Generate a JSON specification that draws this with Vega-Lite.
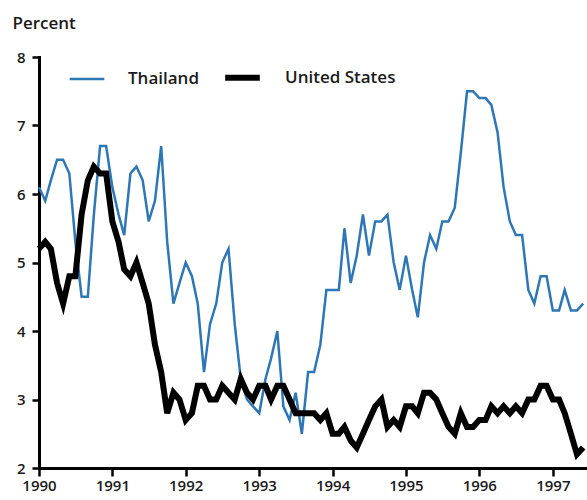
{
  "$schema": "https://vega.github.io/schema/vega-lite/v6.json",
  "width": 548,
  "height": 411,
  "autosize": "none",
  "padding": {"left": 39, "top": 57, "right": 0, "bottom": 32},
  "background": "white",
  "config": {
    "view": {"stroke": null},
    "font": "Open Sans",
    "legend": {
      "orient": "none",
      "legendX": 29,
      "legendY": 0,
      "direction": "horizontal",
      "padding": 0,
      "symbolType": "stroke",
      "symbolSize": 1200,
      "labelFont": "Open Sans",
      "labelFontSize": 17,
      "labelFontWeight": 600,
      "labelColor": "#1a1a1a",
      "labelOffset": 22,
      "columnPadding": 14
    }
  },
  "data": {
    "values": [
      {"date": "1990-01", "Thailand": 6.1, "United States": 5.2},
      {"date": "1990-02", "Thailand": 5.9, "United States": 5.3},
      {"date": "1990-03", "Thailand": 6.2, "United States": 5.2},
      {"date": "1990-04", "Thailand": 6.5, "United States": 4.7},
      {"date": "1990-05", "Thailand": 6.5, "United States": 4.4},
      {"date": "1990-06", "Thailand": 6.3, "United States": 4.8},
      {"date": "1990-07", "Thailand": 5.3, "United States": 4.8},
      {"date": "1990-08", "Thailand": 4.5, "United States": 5.7},
      {"date": "1990-09", "Thailand": 4.5, "United States": 6.2},
      {"date": "1990-10", "Thailand": 5.7, "United States": 6.4},
      {"date": "1990-11", "Thailand": 6.7, "United States": 6.3},
      {"date": "1990-12", "Thailand": 6.7, "United States": 6.3},
      {"date": "1991-01", "Thailand": 6.1, "United States": 5.6},
      {"date": "1991-02", "Thailand": 5.7, "United States": 5.3},
      {"date": "1991-03", "Thailand": 5.4, "United States": 4.9},
      {"date": "1991-04", "Thailand": 6.3, "United States": 4.8},
      {"date": "1991-05", "Thailand": 6.4, "United States": 5.0},
      {"date": "1991-06", "Thailand": 6.2, "United States": 4.7},
      {"date": "1991-07", "Thailand": 5.6, "United States": 4.4},
      {"date": "1991-08", "Thailand": 5.9, "United States": 3.8},
      {"date": "1991-09", "Thailand": 6.7, "United States": 3.4},
      {"date": "1991-10", "Thailand": 5.3, "United States": 2.8},
      {"date": "1991-11", "Thailand": 4.4, "United States": 3.1},
      {"date": "1991-12", "Thailand": 4.7, "United States": 3.0},
      {"date": "1992-01", "Thailand": 5.0, "United States": 2.7},
      {"date": "1992-02", "Thailand": 4.8, "United States": 2.8},
      {"date": "1992-03", "Thailand": 4.4, "United States": 3.2},
      {"date": "1992-04", "Thailand": 3.4, "United States": 3.2},
      {"date": "1992-05", "Thailand": 4.1, "United States": 3.0},
      {"date": "1992-06", "Thailand": 4.4, "United States": 3.0},
      {"date": "1992-07", "Thailand": 5.0, "United States": 3.2},
      {"date": "1992-08", "Thailand": 5.2, "United States": 3.1},
      {"date": "1992-09", "Thailand": 4.1, "United States": 3.0},
      {"date": "1992-10", "Thailand": 3.3, "United States": 3.3},
      {"date": "1992-11", "Thailand": 3.0, "United States": 3.1},
      {"date": "1992-12", "Thailand": 2.9, "United States": 3.0},
      {"date": "1993-01", "Thailand": 2.8, "United States": 3.2},
      {"date": "1993-02", "Thailand": 3.3, "United States": 3.2},
      {"date": "1993-03", "Thailand": 3.6, "United States": 3.0},
      {"date": "1993-04", "Thailand": 4.0, "United States": 3.2},
      {"date": "1993-05", "Thailand": 2.9, "United States": 3.2},
      {"date": "1993-06", "Thailand": 2.7, "United States": 3.0},
      {"date": "1993-07", "Thailand": 3.1, "United States": 2.8},
      {"date": "1993-08", "Thailand": 2.5, "United States": 2.8},
      {"date": "1993-09", "Thailand": 3.4, "United States": 2.8},
      {"date": "1993-10", "Thailand": 3.4, "United States": 2.8},
      {"date": "1993-11", "Thailand": 3.8, "United States": 2.7},
      {"date": "1993-12", "Thailand": 4.6, "United States": 2.8},
      {"date": "1994-01", "Thailand": 4.6, "United States": 2.5},
      {"date": "1994-02", "Thailand": 4.6, "United States": 2.5},
      {"date": "1994-03", "Thailand": 5.5, "United States": 2.6},
      {"date": "1994-04", "Thailand": 4.7, "United States": 2.4},
      {"date": "1994-05", "Thailand": 5.1, "United States": 2.3},
      {"date": "1994-06", "Thailand": 5.7, "United States": 2.5},
      {"date": "1994-07", "Thailand": 5.1, "United States": 2.7},
      {"date": "1994-08", "Thailand": 5.6, "United States": 2.9},
      {"date": "1994-09", "Thailand": 5.6, "United States": 3.0},
      {"date": "1994-10", "Thailand": 5.7, "United States": 2.6},
      {"date": "1994-11", "Thailand": 5.0, "United States": 2.7},
      {"date": "1994-12", "Thailand": 4.6, "United States": 2.6},
      {"date": "1995-01", "Thailand": 5.1, "United States": 2.9},
      {"date": "1995-02", "Thailand": 4.6, "United States": 2.9},
      {"date": "1995-03", "Thailand": 4.2, "United States": 2.8},
      {"date": "1995-04", "Thailand": 5.0, "United States": 3.1},
      {"date": "1995-05", "Thailand": 5.4, "United States": 3.1},
      {"date": "1995-06", "Thailand": 5.2, "United States": 3.0},
      {"date": "1995-07", "Thailand": 5.6, "United States": 2.8},
      {"date": "1995-08", "Thailand": 5.6, "United States": 2.6},
      {"date": "1995-09", "Thailand": 5.8, "United States": 2.5},
      {"date": "1995-10", "Thailand": 6.6, "United States": 2.8},
      {"date": "1995-11", "Thailand": 7.5, "United States": 2.6},
      {"date": "1995-12", "Thailand": 7.5, "United States": 2.6},
      {"date": "1996-01", "Thailand": 7.4, "United States": 2.7},
      {"date": "1996-02", "Thailand": 7.4, "United States": 2.7},
      {"date": "1996-03", "Thailand": 7.3, "United States": 2.9},
      {"date": "1996-04", "Thailand": 6.9, "United States": 2.8},
      {"date": "1996-05", "Thailand": 6.1, "United States": 2.9},
      {"date": "1996-06", "Thailand": 5.6, "United States": 2.8},
      {"date": "1996-07", "Thailand": 5.4, "United States": 2.9},
      {"date": "1996-08", "Thailand": 5.4, "United States": 2.8},
      {"date": "1996-09", "Thailand": 4.6, "United States": 3.0},
      {"date": "1996-10", "Thailand": 4.4, "United States": 3.0},
      {"date": "1996-11", "Thailand": 4.8, "United States": 3.2},
      {"date": "1996-12", "Thailand": 4.8, "United States": 3.2},
      {"date": "1997-01", "Thailand": 4.3, "United States": 3.0},
      {"date": "1997-02", "Thailand": 4.3, "United States": 3.0},
      {"date": "1997-03", "Thailand": 4.6, "United States": 2.8},
      {"date": "1997-04", "Thailand": 4.3, "United States": 2.5},
      {"date": "1997-05", "Thailand": 4.3, "United States": 2.2},
      {"date": "1997-06", "Thailand": 4.4, "United States": 2.3}
    ]
  },
  "transform": [{"fold": ["Thailand", "United States"], "as": ["country", "value"]}],
  "mark": {"type": "line", "clip": false},
  "encoding": {
    "x": {
      "field": "date",
      "type": "temporal",
      "scale": {
        "type": "utc",
        "domain": [
          {"year": 1990, "month": 1, "date": 1, "utc": true},
          {"year": 1997, "month": 6, "date": 20, "utc": true}
        ]
      },
      "axis": {
        "title": null,
        "grid": false,
        "format": "%Y",
        "tickCount": {"interval": "year", "step": 1},
        "domainColor": "black",
        "domainWidth": 3,
        "domainCap": "square",
        "tickColor": "black",
        "tickWidth": 2.5,
        "tickSize": 8,
        "labelFont": "Open Sans",
        "labelFontSize": 15,
        "labelFontWeight": 600,
        "labelColor": "#1a1a1a",
        "labelPadding": 2,
        "labelFlush": false,
        "labelOverlap": false
      }
    },
    "y": {
      "field": "value",
      "type": "quantitative",
      "scale": {"domain": [2, 8], "nice": false, "zero": false},
      "axis": {
        "values": [2, 3, 4, 5, 6, 7, 8],
        "grid": false,
        "title": "Percent",
        "titleAngle": 0,
        "titleAlign": "left",
        "titleBaseline": "alphabetic",
        "titleX": -27,
        "titleY": -29,
        "titleFont": "Open Sans",
        "titleFontSize": 17,
        "titleFontWeight": 600,
        "titleColor": "#1a1a1a",
        "domainColor": "black",
        "domainWidth": 3,
        "domainCap": "square",
        "tickColor": "black",
        "tickWidth": 2.5,
        "tickSize": 7,
        "labelFont": "Open Sans",
        "labelFontSize": 15,
        "labelFontWeight": 600,
        "labelColor": "#1a1a1a",
        "labelPadding": 7
      }
    },
    "color": {
      "field": "country",
      "type": "nominal",
      "scale": {"domain": ["Thailand", "United States"], "range": ["#2f77b4", "#000000"]},
      "legend": {"title": null}
    },
    "strokeWidth": {
      "field": "country",
      "type": "nominal",
      "scale": {"type": "point", "padding": 0, "domain": ["Thailand", "United States"], "range": [2.5, 6]},
      "legend": {"title": null}
    }
  }
}
